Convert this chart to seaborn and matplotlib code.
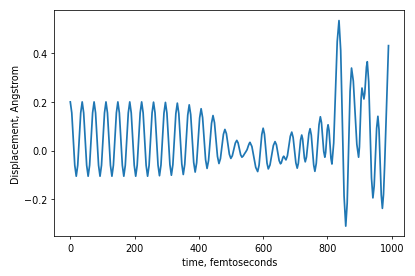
import seaborn as sns
import matplotlib
matplotlib.use("Agg")
import matplotlib.pyplot as plt
import pandas as pd

# values (time in fs, displacement in Angstrom)
# regular oscillation, period ~37 fs
time_early = [
    0, 4.6, 9.3, 13.9, 18.5, 23.1, 27.8, 32.4,
    37, 41.6, 46.3, 50.9, 55.5, 60.1, 64.8, 69.4,
    74, 78.6, 83.3, 87.9, 92.5, 97.1, 101.8, 106.4,
    111, 115.6, 120.3, 124.9, 129.5, 134.1, 138.8, 143.4,
    148, 152.6, 157.3, 161.9, 166.5, 171.1, 175.8, 180.4,
    185, 189.6, 194.3, 198.9, 203.5, 208.1, 212.8, 217.4,
    222, 226.6, 231.3, 235.9, 240.5, 245.1, 249.8, 254.4,
    259, 263.6, 268.3, 272.9, 277.5, 282.1, 286.8, 291.4,
    296, 300.6, 305.3, 309.9, 314.5, 319.1, 323.8, 328.4,
    333, 337.6, 342.3, 346.9, 351.5, 356.1, 360.8, 365.4,
    370, 374.6, 379.3, 383.9, 388.5, 393.1, 397.8, 402.4,
    407, 411.6, 416.3, 420.9, 425.5, 430.1, 434.8, 439.4,
    444, 448.6, 453.3, 457.9, 462.5, 467.1, 471.8, 476.4,
    481, 485.6, 490.3, 494.9, 499.5, 504.1, 508.8, 513.4,
]
disp_early = [
    0.200, 0.155, 0.048, -0.060, -0.105, -0.060, 0.048, 0.155,
    0.200, 0.155, 0.048, -0.060, -0.105, -0.060, 0.048, 0.155,
    0.200, 0.155, 0.048, -0.060, -0.105, -0.060, 0.048, 0.155,
    0.200, 0.155, 0.048, -0.060, -0.105, -0.060, 0.048, 0.155,
    0.200, 0.155, 0.048, -0.060, -0.105, -0.060, 0.048, 0.155,
    0.200, 0.155, 0.048, -0.060, -0.105, -0.060, 0.048, 0.155,
    0.200, 0.155, 0.048, -0.060, -0.105, -0.061, 0.047, 0.155,
    0.199, 0.155, 0.048, -0.059, -0.103, -0.059, 0.048, 0.154,
    0.198, 0.154, 0.049, -0.057, -0.101, -0.058, 0.047, 0.152,
    0.195, 0.152, 0.049, -0.055, -0.098, -0.056, 0.045, 0.146,
    0.188, 0.148, 0.050, -0.048, -0.088, -0.050, 0.042, 0.134,
    0.172, 0.136, 0.050, -0.037, -0.073, -0.041, 0.036, 0.112,
    0.144, 0.115, 0.046, -0.024, -0.053, -0.033, 0.017, 0.067,
    0.087, 0.070, 0.028, -0.015, -0.032, -0.021, 0.005, 0.031,
]

# irregular part after ~520 fs
time_late = [
    518, 522, 526, 530, 534,
    538, 542, 546, 550, 554, 557, 559,
    565, 571, 577, 583,
    587.3, 591.5, 595.8, 600,
    604, 608, 612, 616,
    621.3, 626.5, 631.8, 637,
    641.3, 645.5, 649.8, 654,
    656.5, 659, 661.5, 664,
    667.5, 671,
    675.5, 680, 684.5, 689,
    693.3, 697.5, 701.8, 706,
    709.5, 713, 716.5, 720,
    722.8, 725.5, 728.3, 731,
    734.8, 738.5, 742.3, 746,
    749.8, 753.5, 757.3, 761,
    765.3, 769.5, 773.8, 778,
    781.5, 785, 788.5, 792,
    794.5, 797, 799.5, 802,
    805, 808, 811, 814,
    819.5, 825, 830.5, 836,
    841.3, 846.5, 851.8, 857,
    861.5, 866, 870.5, 875,
    880.5, 886, 891.5, 897,
    899.6, 902.3, 904.9, 907.5,
    910.5, 913.5,
    916.1, 918.8, 921.4, 924,
    928.4, 932.8, 937.1, 941.5,
    945.4, 949.3, 953.1, 957,
    960.5, 964, 967.5, 971,
    974.5, 978, 981.5, 985, 988, 990,
]
disp_late = [
    0.042, 0.032, 0.008, -0.017, -0.027,
    -0.022, -0.013, -0.005, 0.004, 0.020, 0.030, 0.034,
    0.017, -0.026, -0.069, -0.086,
    -0.060, 0.003, 0.066, 0.092,
    0.068, 0.009, -0.051, -0.075,
    -0.059, -0.019, 0.021, 0.037,
    0.024, -0.009, -0.041, -0.054,
    -0.050, -0.039, -0.028, -0.023,
    -0.031, -0.038,
    -0.021, 0.019, 0.059, 0.076,
    0.054, 0.002, -0.050, -0.072,
    -0.052, -0.004, 0.044, 0.064,
    0.048, 0.009, -0.030, -0.046,
    -0.026, 0.022, 0.070, 0.090,
    0.064, 0.003, -0.059, -0.085,
    -0.052, 0.027, 0.106, 0.139,
    0.115, 0.056, -0.003, -0.027,
    -0.008, 0.040, 0.087, 0.106,
    0.083, 0.026, -0.032, -0.055,
    0.031, 0.240, 0.448, 0.534,
    0.411, 0.112, -0.187, -0.310,
    -0.215, 0.015, 0.244, 0.339,
    0.286, 0.156, 0.026, -0.027,
    0.015, 0.115, 0.216, 0.257,
    0.235, 0.212,
    0.234, 0.289, 0.343, 0.365,
    0.283, 0.086, -0.112, -0.194,
    -0.145, -0.027, 0.092, 0.141,
    0.086, -0.048, -0.182, -0.237,
    -0.180, -0.060, 0.080, 0.220, 0.340, 0.431,
]

df = pd.DataFrame({
    "time": time_early + time_late,
    "disp": disp_early + disp_late,
})

fig, ax = plt.subplots(figsize=(6, 4), dpi=69.2)
sns.lineplot(data=df, x="time", y="disp", ax=ax, color="#1f77b4", linewidth=1.8)

ax.set_xlabel("time, femtoseconds")
ax.set_ylabel("Displacement, Angstrom")

plt.subplots_adjust(left=0.131, right=0.974, bottom=0.143, top=0.960)
plt.savefig("out.png", dpi=69.2)
